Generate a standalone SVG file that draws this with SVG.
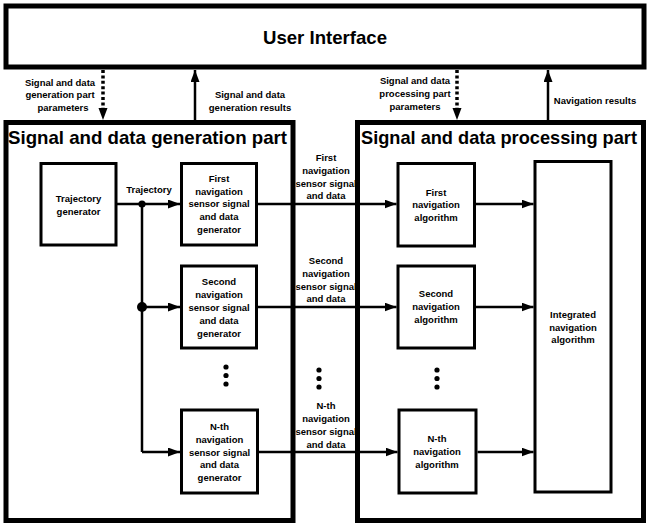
<svg xmlns="http://www.w3.org/2000/svg" width="650" height="529" viewBox="0 0 650 529">
<style>
.big{fill:#fff;stroke:#000;stroke-width:5}
.box{fill:#fff;stroke:#000;stroke-width:3}
.t{font-family:"Liberation Sans",Arial,sans-serif;font-weight:bold;font-size:9.5px;text-anchor:middle;fill:#000}
.h{font-family:"Liberation Sans",Arial,sans-serif;font-weight:bold;font-size:18.6px;fill:#000}
.ln{stroke:#000;stroke-width:2.5;fill:none}
.dash{stroke:#000;stroke-width:3.5;fill:none;stroke-dasharray:3 2.4}
</style>
<defs>
<marker id="ah" viewBox="0 0 12 9" refX="12" refY="4.5" markerWidth="12" markerHeight="9" markerUnits="userSpaceOnUse" orient="auto">
<path d="M0,0 L12,4.5 L0,9 Z" fill="#000"/>
</marker>
</defs>
<rect width="650" height="529" fill="#fff"/>

<g id="ui">
<rect class="big" x="6" y="6" width="638" height="61"/>
<text class="h" x="325" y="44" text-anchor="middle" font-size="19.5">User Interface</text>
</g>

<g id="gen-part">
<rect class="big" x="6" y="122.5" width="287" height="398"/>
<text class="h" x="8" y="144" textLength="279" lengthAdjust="spacingAndGlyphs">Signal and data generation part</text>
</g>

<g id="proc-part">
<rect class="big" x="357.5" y="122.5" width="286" height="398"/>
<text class="h" x="361" y="144" textLength="276" lengthAdjust="spacingAndGlyphs">Signal and data processing part</text>
</g>

<g id="traj-gen">
<rect class="box" x="41" y="163.5" width="75" height="81.5"/>
<text class="t" x="78.5" y="201.5">Trajectory</text>
<text class="t" x="78.5" y="214.5">generator</text>
</g>

<g id="gen1">
<rect class="box" x="181.5" y="163.5" width="75" height="81.5"/>
<text class="t" x="219" y="181.5">First</text>
<text class="t" x="219" y="194.5">navigation</text>
<text class="t" x="219" y="207">sensor signal</text>
<text class="t" x="219" y="220">and data</text>
<text class="t" x="219" y="232.5">generator</text>
</g>

<g id="gen2">
<rect class="box" x="181.5" y="266" width="75" height="82"/>
<text class="t" x="219" y="284.5">Second</text>
<text class="t" x="219" y="297.5">navigation</text>
<text class="t" x="219" y="310.5">sensor signal</text>
<text class="t" x="219" y="323.5">and data</text>
<text class="t" x="219" y="336.5">generator</text>
</g>

<g id="genN">
<rect class="box" x="181.5" y="410" width="76" height="83"/>
<text class="t" x="219.5" y="429.5">N-th</text>
<text class="t" x="219.5" y="442.5">navigation</text>
<text class="t" x="219.5" y="455.5">sensor signal</text>
<text class="t" x="219.5" y="468">and data</text>
<text class="t" x="219.5" y="480.5">generator</text>
</g>

<g id="alg1">
<rect class="box" x="398" y="163.5" width="76.5" height="82.5"/>
<text class="t" x="436" y="195.5">First</text>
<text class="t" x="436" y="208">navigation</text>
<text class="t" x="436" y="220.5">algorithm</text>
</g>

<g id="alg2">
<rect class="box" x="398" y="266" width="76.5" height="82"/>
<text class="t" x="436" y="296.5">Second</text>
<text class="t" x="436" y="309.5">navigation</text>
<text class="t" x="436" y="322.5">algorithm</text>
</g>

<g id="algN">
<rect class="box" x="399" y="410" width="77" height="83"/>
<text class="t" x="437" y="441.5">N-th</text>
<text class="t" x="437" y="455">navigation</text>
<text class="t" x="437" y="467.5">algorithm</text>
</g>

<g id="integrated">
<rect class="box" x="535" y="161.5" width="76" height="330.5"/>
<text class="t" x="573" y="317.5">Integrated</text>
<text class="t" x="573" y="330.5">navigation</text>
<text class="t" x="573" y="343">algorithm</text>
</g>

<g id="ellipses" fill="#000">
<circle cx="226" cy="367" r="2.6"/><circle cx="226" cy="375.5" r="2.6"/><circle cx="226" cy="384" r="2.6"/>
<circle cx="319" cy="370" r="2.6"/><circle cx="319" cy="378.5" r="2.6"/><circle cx="319" cy="387" r="2.6"/>
<circle cx="437" cy="370" r="2.6"/><circle cx="437" cy="378.5" r="2.6"/><circle cx="437" cy="387" r="2.6"/>
</g>

<g id="connectors">
<line class="dash" x1="103" y1="70" x2="103" y2="109"/>
<path d="M98.5,108 L107.5,108 L103,120 Z" fill="#000"/>
<line class="ln" x1="195" y1="121" x2="195" y2="70" marker-end="url(#ah)"/>
<line class="dash" x1="457" y1="70" x2="457" y2="109"/>
<path d="M452.5,108 L461.5,108 L457,120 Z" fill="#000"/>
<line class="ln" x1="548" y1="121" x2="548" y2="70" marker-end="url(#ah)"/>

<line class="ln" x1="117" y1="204" x2="180" y2="204" marker-end="url(#ah)"/>
<path class="ln" d="M142,204 V452"/>
<line class="ln" x1="142" y1="307" x2="180" y2="307" marker-end="url(#ah)"/>
<line class="ln" x1="142" y1="452" x2="180" y2="452" marker-end="url(#ah)"/>
<circle cx="142" cy="204" r="3.6" fill="#000"/>
<circle cx="142" cy="307" r="5" fill="#000"/>

<line class="ln" x1="258" y1="204" x2="396.5" y2="204" marker-end="url(#ah)"/>
<line class="ln" x1="258" y1="307" x2="396.5" y2="307" marker-end="url(#ah)"/>
<line class="ln" x1="259" y1="452" x2="397.5" y2="452" marker-end="url(#ah)"/>

<line class="ln" x1="476" y1="204" x2="533.5" y2="204" marker-end="url(#ah)"/>
<line class="ln" x1="476" y1="307" x2="533.5" y2="307" marker-end="url(#ah)"/>
<line class="ln" x1="477.5" y1="452" x2="533.5" y2="452" marker-end="url(#ah)"/>
</g>

<g id="labels">
<text class="t" x="60" y="85.5">Signal and data</text>
<text class="t" x="60" y="98">generation part</text>
<text class="t" x="63" y="110.5">parameters</text>
<text class="t" x="250" y="97.5">Signal and data</text>
<text class="t" x="250" y="110.5">generation results</text>
<text class="t" x="415" y="84">Signal and data</text>
<text class="t" x="415" y="96.5">processing part</text>
<text class="t" x="415" y="109.5">parameters</text>
<text class="t" x="595" y="103.5">Navigation results</text>
<text class="t" x="149" y="192.5">Trajectory</text>
<text class="t" x="326" y="160.5">First</text>
<text class="t" x="326" y="174">navigation</text>
<text class="t" x="326" y="186.5">sensor signal</text>
<text class="t" x="326" y="199">and data</text>
<text class="t" x="326" y="263.5">Second</text>
<text class="t" x="326" y="276.5">navigation</text>
<text class="t" x="326" y="289.5">sensor signal</text>
<text class="t" x="326" y="301.5">and data</text>
<text class="t" x="326" y="408.5">N-th</text>
<text class="t" x="326" y="421.5">navigation</text>
<text class="t" x="326" y="435">sensor signal</text>
<text class="t" x="326" y="447.5">and data</text>
</g>
</svg>
